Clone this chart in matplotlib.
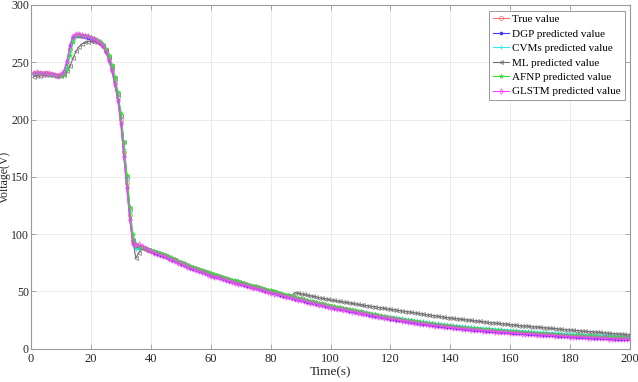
import matplotlib
matplotlib.use("Agg")
import matplotlib.pyplot as plt

time_s = list(range(1, 201))

true_value = [
    240.5, 240.8, 240.6, 240.2, 240.4, 240.0, 239.4, 238.9, 238.6, 238.9,
    241.0, 248.0, 262.0, 271.0, 273.5, 273.6, 273.2, 272.6, 272.0, 271.1,
    270.1, 268.8, 267.2, 264.6, 260.2, 253.4, 244.5, 233.0, 219.5, 200.0,
    172.0, 145.0, 117.0, 94.0, 89.5, 89.6, 88.6, 87.6, 86.5, 85.5,
    84.6, 83.7, 82.8, 81.9, 80.7, 79.5, 78.3, 77.1, 75.9, 74.7,
    73.6, 72.5, 71.4, 70.4, 69.4, 68.4, 67.5, 66.6, 65.7, 64.8,
    63.9, 63.1, 62.3, 61.5, 60.8, 60.1, 59.3, 58.6, 57.8, 57.1,
    56.4, 55.7, 55.0, 54.2, 53.5, 52.8, 52.0, 51.3, 50.6, 49.9,
    49.1, 48.4, 47.7, 47.0, 46.3, 45.7, 45.0, 44.4, 43.7, 43.1,
    42.5, 41.8, 41.2, 40.6, 39.9, 39.3, 38.7, 38.1, 37.5, 36.9,
    36.4, 35.9, 35.4, 34.9, 34.4, 33.9, 33.4, 32.9, 32.4, 31.9,
    31.4, 30.9, 30.4, 29.9, 29.4, 28.9, 28.4, 27.9, 27.4, 26.9,
    26.5, 26.1, 25.7, 25.3, 24.9, 24.5, 24.1, 23.7, 23.3, 22.9,
    22.5, 22.2, 21.8, 21.5, 21.1, 20.8, 20.5, 20.1, 19.8, 19.5,
    19.2, 18.9, 18.6, 18.4, 18.1, 17.8, 17.6, 17.3, 17.1, 16.9,
    16.7, 16.5, 16.3, 16.1, 15.9, 15.7, 15.5, 15.3, 15.1, 14.9,
    14.7, 14.5, 14.4, 14.2, 14.0, 13.8, 13.6, 13.5, 13.3, 13.1,
    12.9, 12.8, 12.6, 12.5, 12.3, 12.1, 12.0, 11.8, 11.7, 11.5,
    11.4, 11.2, 11.1, 11.0, 10.8, 10.7, 10.5, 10.4, 10.3, 10.1,
    10.0, 9.9, 9.8, 9.7, 9.5, 9.4, 9.3, 9.2, 9.1, 9.0,
]

dgp_pred = [
    240.0, 240.3, 240.9, 240.5, 239.9, 239.6, 239.2, 238.5, 238.3, 239.2,
    242.0, 250.5, 264.0, 271.8, 273.0, 273.2, 273.0, 272.3, 271.5, 270.6,
    269.6, 268.3, 266.6, 263.8, 259.0, 252.0, 243.0, 231.0, 217.0, 197.0,
    168.0, 141.0, 113.0, 92.0, 88.0, 88.2, 87.8, 87.0, 86.0, 85.0,
    84.0, 83.1, 82.2, 81.3, 80.1, 78.9, 77.7, 76.5, 75.3, 74.1,
    73.0, 71.9, 70.8, 69.8, 68.8, 67.8, 66.9, 66.0, 65.1, 64.2,
    63.3, 62.5, 61.7, 60.9, 60.2, 59.5, 58.7, 58.0, 57.2, 56.5,
    55.8, 55.1, 54.4, 53.6, 52.9, 52.2, 51.4, 50.7, 50.0, 49.3,
    48.5, 47.8, 47.1, 46.4, 45.7, 45.1, 44.4, 43.8, 43.1, 42.5,
    41.9, 41.2, 40.6, 40.0, 39.3, 38.7, 38.1, 37.5, 36.9, 36.3,
    35.8, 35.3, 34.8, 34.3, 33.8, 33.3, 32.8, 32.3, 31.8, 31.3,
    30.8, 30.3, 29.8, 29.3, 28.8, 28.3, 27.8, 27.3, 26.8, 26.3,
    25.9, 25.5, 25.1, 24.7, 24.3, 23.9, 23.5, 23.1, 22.7, 22.3,
    21.9, 21.6, 21.2, 20.9, 20.5, 20.2, 19.9, 19.5, 19.2, 18.9,
    18.6, 18.3, 18.0, 17.8, 17.5, 17.2, 17.0, 16.7, 16.5, 16.3,
    16.1, 15.9, 15.7, 15.5, 15.3, 15.1, 14.9, 14.7, 14.5, 14.3,
    14.1, 13.9, 13.8, 13.6, 13.4, 13.2, 13.0, 12.9, 12.7, 12.5,
    12.3, 12.2, 12.0, 11.9, 11.7, 11.5, 11.4, 11.2, 11.1, 10.9,
    10.8, 10.6, 10.5, 10.4, 10.2, 10.1, 9.9, 9.8, 9.7, 9.5,
    9.4, 9.3, 9.2, 9.1, 8.9, 8.8, 8.7, 8.6, 8.5, 8.4,
]

cvms_pred = [
    240.8, 241.0, 240.4, 240.6, 240.1, 239.7, 239.0, 238.7, 238.9, 239.3,
    240.5, 246.0, 259.0, 269.5, 273.0, 273.8, 273.6, 273.1, 272.5, 271.8,
    270.8, 269.6, 268.2, 265.8, 261.5, 254.8, 246.0, 234.5, 221.0, 202.0,
    174.0, 147.0, 119.0, 95.0, 87.0, 87.5, 88.0, 87.8, 87.0, 86.1,
    85.2, 84.3, 83.4, 82.5, 81.3, 80.1, 78.9, 77.7, 76.5, 75.3,
    74.2, 73.1, 72.0, 71.0, 70.0, 69.0, 68.1, 67.2, 66.3, 65.4,
    64.5, 63.7, 62.9, 62.1, 61.4, 60.7, 59.9, 59.2, 58.4, 57.7,
    57.0, 56.3, 55.6, 54.8, 54.1, 53.4, 52.6, 51.9, 51.2, 50.5,
    49.7, 49.0, 48.3, 47.6, 46.9, 46.3, 45.6, 45.0, 44.3, 43.7,
    43.1, 42.4, 41.8, 41.2, 40.5, 39.9, 39.3, 38.7, 38.1, 37.5,
    37.3, 36.8, 36.3, 35.8, 35.3, 34.8, 34.3, 33.8, 33.3, 32.8,
    32.4, 31.9, 31.4, 30.9, 30.4, 29.9, 29.4, 28.9, 28.4, 27.9,
    27.7, 27.3, 26.9, 26.5, 26.1, 25.7, 25.3, 24.9, 24.5, 24.1,
    23.8, 23.5, 23.1, 22.8, 22.4, 22.1, 21.8, 21.4, 21.1, 20.8,
    20.6, 20.3, 20.0, 19.8, 19.5, 19.2, 19.0, 18.7, 18.5, 18.3,
    18.2, 18.0, 17.8, 17.6, 17.4, 17.2, 17.0, 16.8, 16.6, 16.4,
    16.2, 16.0, 15.9, 15.7, 15.5, 15.3, 15.1, 15.0, 14.8, 14.6,
    14.4, 14.3, 14.1, 14.0, 13.8, 13.6, 13.5, 13.3, 13.2, 13.0,
    13.0, 12.8, 12.7, 12.6, 12.4, 12.3, 12.1, 12.0, 11.9, 11.7,
    11.6, 11.5, 11.4, 11.3, 11.1, 11.0, 10.9, 10.8, 10.7, 10.6,
]

ml_pred = [
    237.5, 238.0, 238.3, 238.6, 238.8, 238.8, 238.5, 238.0, 237.8, 237.6,
    238.5, 242.0, 246.5, 253.5, 259.5, 263.5, 266.0, 267.3, 268.0, 268.2,
    268.0, 267.5, 266.3, 264.0, 260.5, 255.0, 247.0, 236.0, 222.0, 203.0,
    180.0, 150.0, 122.0, 95.0, 79.0, 84.0, 87.5, 87.0, 86.3, 85.5,
    84.8, 83.9, 83.0, 82.1, 80.9, 79.7, 78.5, 77.3, 76.1, 74.9,
    73.8, 72.7, 71.6, 70.6, 69.6, 68.6, 67.7, 66.8, 65.9, 65.0,
    64.1, 63.3, 62.5, 61.7, 61.0, 60.3, 59.5, 58.8, 58.0, 57.3,
    56.6, 55.9, 55.2, 54.4, 53.7, 53.0, 52.2, 51.5, 50.8, 50.1,
    49.3, 48.6, 47.9, 47.2, 46.5, 45.9, 45.2, 49.0, 48.5, 48.0,
    47.4, 46.9, 46.3, 45.8, 45.3, 44.7, 44.2, 43.7, 43.1, 42.6,
    42.2, 41.8, 41.3, 40.9, 40.5, 40.1, 39.7, 39.2, 38.8, 38.4,
    38.0, 37.6, 37.2, 36.8, 36.4, 36.0, 35.6, 35.2, 34.8, 34.5,
    34.1, 33.7, 33.3, 32.9, 32.5, 32.2, 31.8, 31.4, 31.0, 30.6,
    30.2, 29.8, 29.4, 29.0, 28.6, 28.3, 27.9, 27.5, 27.2, 26.8,
    26.5, 26.2, 25.9, 25.6, 25.3, 25.0, 24.7, 24.4, 24.1, 23.8,
    23.5, 23.2, 22.9, 22.7, 22.4, 22.1, 21.8, 21.5, 21.3, 21.0,
    20.8, 20.5, 20.3, 20.0, 19.8, 19.6, 19.3, 19.1, 18.9, 18.6,
    18.4, 18.2, 17.9, 17.7, 17.5, 17.2, 17.0, 16.8, 16.5, 16.3,
    16.1, 15.9, 15.7, 15.4, 15.2, 15.0, 14.8, 14.6, 14.4, 14.2,
    13.9, 13.7, 13.5, 13.3, 13.1, 12.9, 12.7, 12.5, 12.2, 12.0,
]

afnp_pred = [
    240.2, 240.6, 241.0, 240.8, 240.3, 239.8, 239.3, 239.0, 238.7, 238.4,
    239.5, 244.0, 256.0, 267.5, 272.5, 273.8, 274.0, 273.5, 272.8, 271.9,
    271.0, 269.8, 268.3, 266.0, 262.0, 256.0, 248.0, 237.5, 224.0, 206.0,
    180.0, 152.0, 124.0, 100.0, 91.0, 89.0, 88.8, 88.3, 87.4, 86.5,
    85.6, 84.7, 83.8, 82.9, 81.7, 80.5, 79.3, 78.1, 76.9, 75.7,
    74.6, 73.5, 72.4, 71.4, 70.4, 69.4, 68.5, 67.6, 66.7, 65.8,
    64.9, 64.1, 63.3, 62.5, 61.8, 61.1, 60.3, 59.6, 58.8, 58.1,
    57.4, 56.7, 56.0, 55.2, 54.5, 53.8, 53.0, 52.3, 51.6, 50.9,
    50.1, 49.4, 48.7, 48.0, 47.3, 46.6, 45.9, 45.3, 44.6, 44.0,
    43.3, 42.6, 42.0, 41.4, 40.7, 40.1, 39.5, 38.9, 38.3, 37.7,
    37.1, 36.6, 36.1, 35.6, 35.1, 34.6, 34.1, 33.6, 33.1, 32.6,
    32.0, 31.5, 31.0, 30.5, 30.0, 29.5, 29.0, 28.5, 28.0, 27.5,
    27.1, 26.7, 26.3, 25.9, 25.5, 25.1, 24.7, 24.3, 23.9, 23.5,
    23.1, 22.8, 22.4, 22.1, 21.7, 21.4, 21.1, 20.7, 20.4, 20.1,
    19.8, 19.5, 19.2, 19.0, 18.7, 18.4, 18.2, 17.9, 17.7, 17.5,
    17.3, 17.1, 16.9, 16.7, 16.5, 16.3, 16.1, 15.9, 15.7, 15.5,
    15.3, 15.1, 15.0, 14.8, 14.6, 14.4, 14.2, 14.1, 13.9, 13.7,
    13.5, 13.4, 13.2, 13.1, 12.9, 12.7, 12.6, 12.4, 12.3, 12.1,
    12.0, 11.8, 11.7, 11.6, 11.4, 11.3, 11.1, 11.0, 10.9, 10.7,
    10.6, 10.5, 10.4, 10.3, 10.1, 10.0, 9.9, 9.8, 9.7, 9.6,
]

glstm_pred = [
    240.3, 241.2, 241.0, 240.0, 240.6, 240.3, 239.6, 238.8, 238.4, 239.6,
    242.5, 251.0, 265.0, 272.5, 274.5, 274.6, 274.0, 273.3, 272.6, 271.6,
    270.5, 269.0, 267.0, 264.0, 259.0, 251.5, 242.0, 230.0, 216.0, 196.0,
    167.0, 140.0, 112.0, 91.0, 90.5, 91.0, 89.5, 88.0, 86.6, 85.2,
    84.0, 83.0, 82.0, 81.1, 79.9, 78.7, 77.4, 76.2, 75.0, 73.8,
    72.7, 71.6, 70.5, 69.5, 68.5, 67.5, 66.6, 65.7, 64.8, 63.9,
    63.0, 62.2, 61.4, 60.6, 59.9, 59.2, 58.4, 57.7, 56.9, 56.2,
    55.5, 54.8, 54.1, 53.3, 52.6, 51.9, 51.1, 50.4, 49.7, 49.0,
    48.2, 47.5, 46.8, 46.1, 45.4, 44.8, 44.1, 43.5, 42.8, 42.2,
    41.6, 40.9, 40.3, 39.7, 39.0, 38.4, 37.8, 37.2, 36.6, 36.0,
    35.5, 35.0, 34.5, 34.0, 33.5, 33.0, 32.5, 32.0, 31.5, 31.0,
    30.5, 30.0, 29.5, 29.0, 28.5, 28.0, 27.5, 27.0, 26.5, 26.0,
    25.6, 25.2, 24.8, 24.4, 24.0, 23.6, 23.2, 22.8, 22.4, 22.0,
    21.6, 21.3, 20.9, 20.6, 20.2, 19.9, 19.6, 19.2, 18.9, 18.6,
    18.3, 18.0, 17.7, 17.5, 17.2, 16.9, 16.7, 16.4, 16.2, 16.0,
    15.8, 15.6, 15.4, 15.2, 15.0, 14.8, 14.6, 14.4, 14.2, 14.0,
    13.8, 13.6, 13.5, 13.3, 13.1, 12.9, 12.7, 12.6, 12.4, 12.2,
    12.0, 11.9, 11.7, 11.6, 11.4, 11.2, 11.1, 10.9, 10.8, 10.6,
    10.5, 10.3, 10.2, 10.1, 9.9, 9.8, 9.6, 9.5, 9.4, 9.2,
    9.1, 9.0, 8.9, 8.8, 8.6, 8.5, 8.4, 8.3, 8.2, 8.1,
]

series_labels = ["True value", "DGP predicted value", "CVMs predicted value",
                 "ML predicted value", "AFNP predicted value", "GLSTM predicted value"]
x_ticks = [0, 20, 40, 60, 80, 100, 120, 140, 160, 180, 200]
y_ticks = [0, 50, 100, 150, 200, 250, 300]

plt.rcParams["font.family"] = ["Liberation Serif", "DejaVu Serif"]

fig = plt.figure(figsize=(6.38, 3.82), dpi=100)
ax = fig.add_axes([0.0486, 0.087, 0.939, 0.900])

styles = [
    dict(color="#FF7070", marker="o", markersize=3.0, markerfacecolor="none", markeredgewidth=0.5),
    dict(color="#3A3AFF", marker=".", markersize=3.2),
    dict(color="#30ECEC", marker="+", markersize=3.2, markeredgewidth=0.7),
    dict(color="#707070", marker="<", markersize=2.8, markerfacecolor="none", markeredgewidth=0.5),
    dict(color="#35E035", marker="*", markersize=3.2, markeredgewidth=0.4),
    dict(color="#FF40FF", marker="d", markersize=2.8, markerfacecolor="none", markeredgewidth=0.5),
]
data = [true_value, dgp_pred, cvms_pred, ml_pred, afnp_pred, glstm_pred]
for vals, lab, st in zip(data, series_labels, styles):
    ax.plot(time_s, vals, label=lab, linewidth=0.8, **st)

ax.set_xlim(0, 200)
ax.set_ylim(0, 300)
ax.set_xticks(x_ticks)
ax.set_yticks(y_ticks)
ax.grid(True, color="#E8E8E8", linewidth=0.6)
ax.set_axisbelow(True)
ax.tick_params(direction="in", length=3.5, width=0.6, top=True, right=True,
               labelsize=9, colors="#999999", labelcolor="#262626", pad=3)
ax.tick_params(axis="y", labelsize=8.5, pad=1.5)
for sp in ax.spines.values():
    sp.set_color("#999999")
    sp.set_linewidth(0.8)

ax.set_xlabel("Time(s)", fontsize=9.5, labelpad=1, color="#262626")
ax.set_ylabel("Voltage(V)", fontsize=8.5, color="#262626")
ax.yaxis.set_label_coords(-0.0335, 0.5)

leg = ax.legend(loc="upper right", fontsize=8, frameon=True, fancybox=False,
                framealpha=1, edgecolor="#888888", borderpad=0.35,
                labelspacing=0.42, handlelength=1.4, handletextpad=0.3,
                borderaxespad=0.5)
leg.get_frame().set_linewidth(0.6)

fig.savefig("out.png", dpi=100)
